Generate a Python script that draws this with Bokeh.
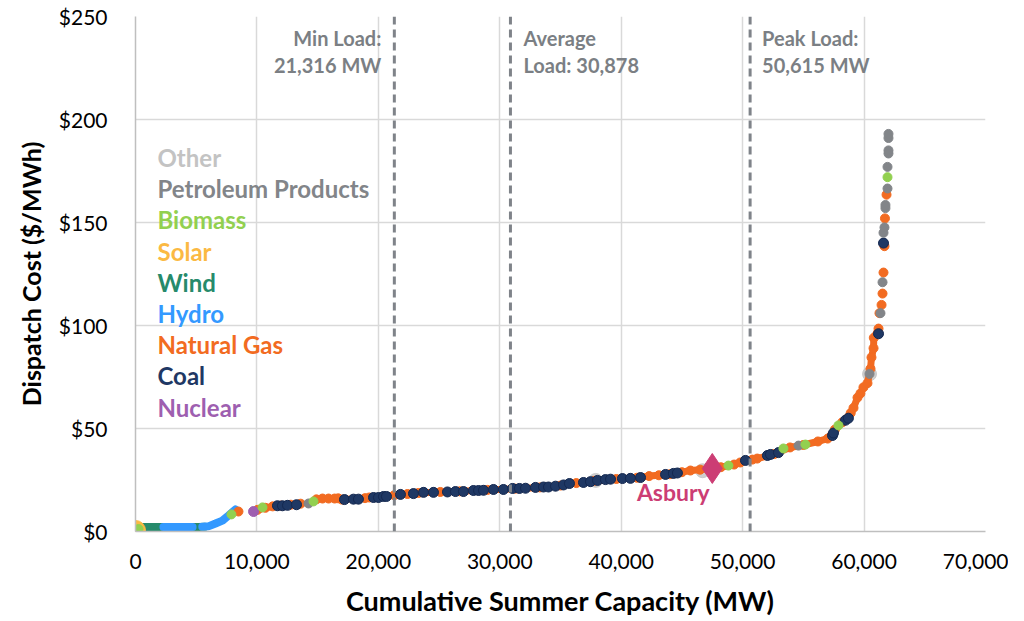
import math
from bokeh.plotting import figure
from bokeh.models import Span, Label, NumeralTickFormatter, FixedTicker, Range1d, Title
from bokeh.embed import file_html
from bokeh.resources import INLINE

# ---------------- data (MW cumulative, $/MWh) ----------------
solar_x = [0]
solar_y = [0.5]

wind_x_1 = [150, 700, 1200, 1700, 2300]
wind_y_1 = [2.2, 2.2, 2.2, 2.2, 2.2]
wind_x_2 = [4700, 5200, 5700]
wind_y_2 = [2.2, 2.2, 2.3]

hydro_x_1 = [2300, 2800, 3300, 3800, 4300, 4700]
hydro_y_1 = [2.2, 2.2, 2.2, 2.2, 2.2, 2.2]
hydro_x_2 = [5500, 6000, 6590, 7160, 7660, 8230]
hydro_y_2 = [2.3, 2.5, 3.9, 5.3, 7.8, 10.7]

ng_x_1 = [8480]
ng_y_1 = [9.7]
ng_x_2 = [10050, 10700, 11300, 12000, 12800, 13600]
ng_y_2 = [10.5, 11.5, 12.2, 12.6, 13.0, 13.5]
ng_x_3 = [14900, 15400, 15900, 16400, 16700]
ng_y_3 = [15.6, 16.0, 16.0, 16.0, 16.1]
ng_x_4 = [17000, 18900, 19250, 21300, 22400, 23300, 25100, 26700, 29000, 31300,
          33300, 35000, 36300, 37800, 39600, 41300, 42300, 43100, 44000, 45000,
          45700, 46500, 48200, 49300, 49800, 50800, 51200, 52600, 53900, 55000,
          56200, 57000, 57300, 57600, 58200, 58900, 59130, 59460, 59700, 59950,
          60280, 60530, 60610, 60780, 60800, 61190]
ng_y_4 = [15.5, 16.2, 16.5, 17.6, 18.2, 18.7, 19.2, 19.5, 20.2, 20.8,
          21.4, 22.3, 23.5, 24.6, 25.5, 26.1, 26.9, 27.3, 27.8, 28.8,
          29.6, 30.0, 31.2, 32.5, 33.5, 34.9, 35.4, 37.6, 40.8, 42.0,
          43.7, 45.1, 46.5, 49.5, 53.0, 57.5, 60.0, 65.0, 67.0, 70.0,
          72.0, 79.0, 84.5, 89.0, 94.0, 98.5]
ng_x_5 = [61270, 61440, 61520, 61600, 61680, 61720, 61850]
ng_y_5 = [106, 110, 115.5, 125.7, 138.5, 152, 163.5]

coal_x = [11690, 12100, 12520, 13260, 17210, 17950, 18360, 19600, 20010, 20420,
          20670, 21820, 22890, 23720, 24540, 25690, 26350, 27010, 27830, 28250,
          28660, 29480, 30300, 31050, 31620, 32120, 32940, 33600, 34010, 34590,
          35250, 35740, 36890, 37470, 38050, 38700, 39120, 40100, 40760, 41590,
          43650, 44300, 44630, 50230, 52040, 52290, 52950, 57400, 57480, 58470,
          58710, 61190, 61600]
coal_y = [12.5, 12.5, 12.7, 13.0, 15.5, 15.7, 15.7, 16.5, 16.5, 17.0,
          17.0, 18.0, 18.4, 19.0, 19.0, 19.2, 19.4, 19.4, 19.9, 19.9,
          20.0, 20.4, 20.4, 20.9, 20.9, 21.0, 21.4, 21.6, 21.6, 22.0,
          22.6, 23.3, 23.8, 24.2, 24.8, 25.2, 25.4, 25.7, 25.8, 26.2,
          27.7, 28.2, 28.4, 34.5, 36.9, 37.4, 38.3, 46.6, 47.8, 54.0,
          55.0, 96.0, 140.0]

biomass_x = [250, 7900, 10460, 14660, 48830, 53360, 55170, 57890, 61930]
biomass_y = [1.2, 8.3, 11.7, 14.6, 32.0, 40.3, 42.2, 51.5, 172.0]

nuclear_x = [9720]
nuclear_y = [9.7]

petroleum_x = [14250, 54600, 60450, 61350, 61520, 61600, 61680, 61760, 61760,
               61930, 61930, 62010, 62010, 62010, 62010]
petroleum_y = [13.6, 41.7, 76.5, 106, 121, 145, 147.6, 157, 158.5,
               166.5, 177, 183.5, 185, 191, 193]

other_x = [37900, 46700, 60450]
other_y = [24.8, 29.5, 76.5]

asbury_x = [47500]
asbury_y = [30.6]

loads = [21316, 30878, 50615]
load_text = [("Min Load:", "21,316 MW"), ("Average", "Load: 30,878"), ("Peak Load:", "50,615 MW")]

x_ticks = [0, 10000, 20000, 30000, 40000, 50000, 60000, 70000]
y_ticks = [0, 50, 100, 150, 200, 250]

fuels = ["Other", "Petroleum Products", "Biomass", "Solar", "Wind", "Hydro",
         "Natural Gas", "Coal", "Nuclear"]

# ---------------- styles ----------------
FONT = "Lato"
C = {
    "Other": "#c3c3c3",
    "Petroleum Products": "#828589",
    "Biomass": "#92d050",
    "Solar": "#fbb943",
    "Wind": "#268a6b",
    "Hydro": "#3399ff",
    "Natural Gas": "#f26b21",
    "Coal": "#1f3864",
    "Nuclear": "#9e5fb0",
}
ASB = "#cc3d74"
LABEL_GRAY = "#7b7f84"

p = figure(width=1008, height=621, output_backend="svg", toolbar_location=None,
           x_range=Range1d(0, 70000), y_range=Range1d(0, 250),
           min_border_left=135, min_border_right=23, min_border_top=16,
           min_border_bottom=90)
p.outline_line_color = None
p.background_fill_color = "white"
p.border_fill_color = "white"

for ax in (p.xaxis[0], p.yaxis[0]):
    ax.major_tick_line_color = None
    ax.minor_tick_line_color = None
    ax.axis_line_color = "#bfbfbf"
    ax.axis_line_width = 1.5
    ax.major_label_text_font = FONT
    ax.major_label_text_font_size = "21px"
    ax.major_label_text_color = "#000000"

p.xaxis.ticker = FixedTicker(ticks=x_ticks)
p.yaxis.ticker = FixedTicker(ticks=y_ticks)
p.xaxis.formatter = NumeralTickFormatter(format="0,0")
p.yaxis.formatter = NumeralTickFormatter(format="$0,0")
p.xaxis.major_label_standoff = 16
p.yaxis.major_label_standoff = 22

p.xaxis.axis_label = "Cumulative Summer Capacity (MW)"
p.xaxis.axis_label_text_font = FONT
p.xaxis.axis_label_text_font_style = "bold"
p.xaxis.axis_label_text_font_size = "27px"
p.xaxis.axis_label_text_color = "#000000"
p.xaxis.axis_label_standoff = 12

p.xgrid.grid_line_color = "#d9d9d9"
p.ygrid.grid_line_color = "#d9d9d9"
p.xgrid.grid_line_width = 1.5
p.ygrid.grid_line_width = 1.5

# y-axis title
p.add_layout(Title(text="Dispatch Cost ($/MWh)", align="center", offset=16,
                   text_font=FONT, text_font_style="bold",
                   text_font_size="25px", text_color="#000000",
                   standoff=20), "left")

# load lines
for val in loads:
    p.add_layout(Span(location=val, dimension="height", line_color="#7f8389",
                      line_width=3, line_dash="8 5"))

offs = [(-13, "right"), (13, "left"), (12, "left")]
for val, (l1, l2), (xo, al) in zip(loads, load_text, offs):
    for txt, ys in ((l1, 494), (l2, 467)):
        p.add_layout(Label(x=val, y=ys, x_units="data", y_units="screen",
                           x_offset=xo, text=txt, text_align=al,
                           text_baseline="middle", text_font=FONT,
                           text_font_style="bold", text_font_size="20px",
                           text_color=LABEL_GRAY))

# curve
p.scatter(other_x, other_y, size=14, color=C["Other"], alpha=0.8)
for xs, ys in ((wind_x_1, wind_y_1), (wind_x_2, wind_y_2)):
    p.line(xs, ys, line_width=8, color=C["Wind"], line_cap="round")
for xs, ys in ((hydro_x_1, hydro_y_1), (hydro_x_2, hydro_y_2)):
    p.line(xs, ys, line_width=8, color=C["Hydro"], line_cap="round")
ng_runs = [(ng_x_1, ng_y_1), (ng_x_2, ng_y_2), (ng_x_3, ng_y_3), (ng_x_4, ng_y_4)]
for xs, ys in ng_runs:
    p.line(xs, ys, line_width=7, color=C["Natural Gas"], line_cap="round")
for xs, ys in ng_runs + [(ng_x_5, ng_y_5)]:
    p.scatter(xs, ys, size=9, color=C["Natural Gas"])
p.scatter(solar_x, solar_y, size=20, color=C["Solar"])
p.scatter(coal_x, coal_y, size=10, fill_color=C["Coal"], line_color="#142850",
          line_width=1)
p.scatter(nuclear_x, nuclear_y, size=10, color=C["Nuclear"])
p.scatter(petroleum_x, petroleum_y, size=9, color=C["Petroleum Products"])
p.scatter(biomass_x, biomass_y, size=9, color=C["Biomass"])
p.scatter(asbury_x, asbury_y, marker="diamond", size=30, color=ASB)

p.add_layout(Label(x=asbury_x[0], y=asbury_y[0], x_offset=-39, y_offset=-24,
                   text="Asbury", text_align="center", text_baseline="middle",
                   text_font=FONT, text_font_style="bold", text_font_size="23px",
                   text_color=ASB))

# legend as coloured text
for i, name in enumerate(fuels):
    p.add_layout(Label(x=22, y=374 - 31.2 * i, x_units="screen", y_units="screen",
                       text=name, text_align="left", text_baseline="middle",
                       text_font=FONT, text_font_style="bold",
                       text_font_size="24px", text_color=C[name]))

open("out.html", "w").write(file_html(p, INLINE))
